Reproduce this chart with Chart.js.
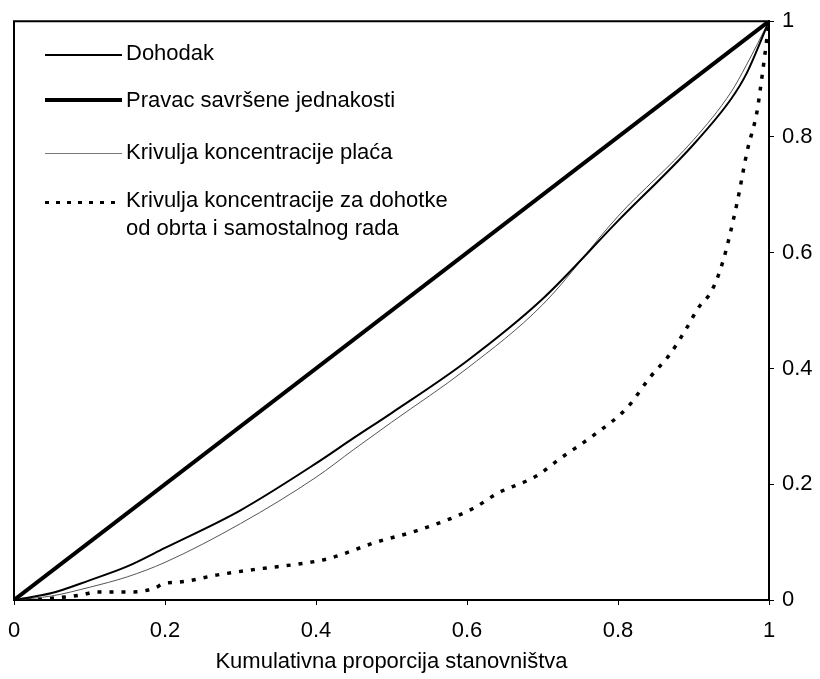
<!DOCTYPE html>
<html>
<head>
<meta charset="utf-8">
<title>Krivulje koncentracije</title>
<script src="https://cdn.jsdelivr.net/npm/chart.js@4.4.1/dist/chart.umd.min.js"></script>
<style>
  html, body { margin: 0; padding: 0; background: #fff; }
  #wrap { position: relative; width: 820px; height: 679px; }
  #legenda { position: absolute; left: 0; top: 0; font: 22px "Liberation Sans", Arial, sans-serif; color: #000; }
  #legenda .uzorak { position: absolute; left: 45px; width: 77px; }
  #legenda .tekst { position: absolute; left: 126px; white-space: nowrap; line-height: 28px; }
</style>
</head>
<body>
<div id="wrap">
  <canvas id="myChart" width="820" height="679"></canvas>
  <div id="legenda"></div>
</div>
<script>
// Lorenzove krivulje - očitano sa slike

const udioStanovnistva = [0, 0.05, 0.1, 0.15, 0.2, 0.3, 0.4, 0.45, 0.5, 0.6, 0.7, 0.8, 0.9, 0.95, 0.97, 1];
const dohodak = [0, 0.012, 0.034, 0.058, 0.09, 0.155, 0.236, 0.28, 0.323, 0.413, 0.52, 0.655, 0.787, 0.866, 0.909, 1];
const place = [0, 0.007, 0.022, 0.04, 0.065, 0.132, 0.212, 0.26, 0.307, 0.4, 0.51, 0.663, 0.795, 0.878, 0.924, 1];

const jednakostX = [0, 1];
const jednakostY = [0, 1];

const obrtX = [0, 0.05, 0.09, 0.11, 0.158, 0.185, 0.2, 0.22, 0.268, 0.32, 0.392, 0.418, 0.48, 0.534, 0.608, 0.64,
    0.693, 0.723, 0.767, 0.812, 0.842, 0.869, 0.891, 0.906, 0.924, 0.939, 0.958, 0.971, 0.984, 0.988, 0.995, 1];
const obrtY = [0, 0.003, 0.009, 0.014, 0.014, 0.02, 0.029, 0.031, 0.043, 0.053, 0.065, 0.072, 0.1, 0.12, 0.158, 0.184,
    0.215, 0.244, 0.284, 0.332, 0.384, 0.425, 0.47, 0.504, 0.534, 0.585, 0.688, 0.775, 0.843, 0.878, 0.947, 1];

const oznakeOsi = [0, 0.2, 0.4, 0.6, 0.8, 1];
const naslovX = 'Kumulativna proporcija stanovništva';

const legendaTekst = [
    ['Dohodak'],
    ['Pravac savršene jednakosti'],
    ['Krivulja koncentracije plaća'],
    ['Krivulja koncentracije za dohotke', 'od obrta i samostalnog rada']
];

function tocke(xs, ys) {
    return xs.map((x, i) => ({ x: x, y: ys[i] }));
}

Chart.defaults.font.family = '"Liberation Sans", Arial, sans-serif';
Chart.defaults.font.size = 22;
Chart.defaults.color = '#000';

// okvir oko grafa (gornja i lijeva linija)
const okvir = {
    id: 'okvir',
    afterDraw(chart) {
        const { ctx, chartArea } = chart;
        ctx.save();
        ctx.strokeStyle = '#000';
        ctx.lineWidth = 2;
        ctx.beginPath();
        ctx.moveTo(chartArea.left, chartArea.bottom);
        ctx.lineTo(chartArea.left, chartArea.top);
        ctx.lineTo(chartArea.right, chartArea.top);
        ctx.stroke();
        ctx.restore();
    }
};

const ctx = document.getElementById('myChart').getContext('2d');

const myChart = new Chart(ctx, {
    type: 'line',
    data: {
        datasets: [{
            label: legendaTekst[1][0],
            data: tocke(jednakostX, jednakostY),
            borderColor: '#000',
            borderWidth: 4,
            pointRadius: 0
        }, {
            label: legendaTekst[0][0],
            data: tocke(udioStanovnistva, dohodak),
            borderColor: '#000',
            borderWidth: 2,
            pointRadius: 0,
            cubicInterpolationMode: 'monotone'
        }, {
            label: legendaTekst[2][0],
            data: tocke(udioStanovnistva, place),
            borderColor: '#555',
            borderWidth: 1,
            pointRadius: 0,
            cubicInterpolationMode: 'monotone'
        }, {
            label: legendaTekst[3].join(' '),
            data: tocke(obrtX, obrtY),
            borderColor: '#000',
            borderWidth: 3.5,
            borderDash: [4, 8],
            pointRadius: 0,
            cubicInterpolationMode: 'monotone'
        }]
    },
    options: {
        responsive: false,
        animation: false,
        layout: { padding: { left: 14, top: 19, right: 0, bottom: 0 } },
        plugins: {
            legend: { display: false },
            tooltip: { enabled: false }
        },
        scales: {
            x: {
                type: 'linear',
                position: 'bottom',
                min: 0,
                max: 1,
                afterBuildTicks: (s) => { s.ticks = oznakeOsi.map(v => ({ value: v })); },
                afterFit: (s) => {
                    s.height = 79;
                    s.paddingLeft = 0;
                    s.paddingRight = 0;
                },
                ticks: {
                    padding: 13,
                    callback: (v) => String(Math.round(v * 10) / 10)
                },
                grid: { drawOnChartArea: false, tickLength: 5, color: '#000' },
                border: { color: '#000', width: 2 },
                title: {
                    display: true,
                    text: naslovX,
                    padding: { top: 10 }
                }
            },
            y: {
                type: 'linear',
                position: 'right',
                min: 0,
                max: 1,
                afterBuildTicks: (s) => { s.ticks = oznakeOsi.map(v => ({ value: v })); },
                afterFit: (s) => { s.width = 51; },
                ticks: {
                    padding: 8,
                    callback: (v) => String(Math.round(v * 10) / 10)
                },
                grid: { drawOnChartArea: false, tickLength: 5, color: '#000' },
                border: { color: '#000', width: 2 }
            }
        }
    },
    plugins: [okvir]
});

// legenda u HTML-u, unutar grafa
const legenda = document.getElementById('legenda');
const sredineTeksta = [53, 100, 152, 200];
const visineUzorka = [55, 100, 153, 202];
const stiloviUzorka = [
    'height:2px;background:#000;',
    'height:4px;background:#000;',
    'height:1px;background:#777;',
    'height:3px;background:repeating-linear-gradient(90deg,#000 0 4px,transparent 4px 11px);'
];
legendaTekst.forEach((redovi, i) => {
    const uzorak = document.createElement('div');
    uzorak.className = 'uzorak';
    uzorak.style.cssText = stiloviUzorka[i];
    const h = parseFloat(uzorak.style.height);
    uzorak.style.top = (visineUzorka[i] - h / 2) + 'px';
    legenda.appendChild(uzorak);

    const tekst = document.createElement('div');
    tekst.className = 'tekst';
    tekst.style.top = (sredineTeksta[i] - 14) + 'px';
    tekst.innerHTML = redovi.join('<br>');
    legenda.appendChild(tekst);
});
</script>
</body>
</html>
